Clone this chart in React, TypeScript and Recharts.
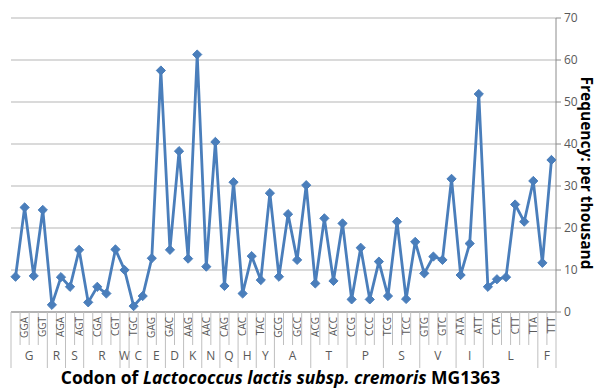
import { LineChart, Line, XAxis, YAxis, CartesianGrid } from 'recharts';

const codons = [
  'GGG', 'GGA', 'GGC', 'GGT', 'AGG', 'AGA', 'AGC', 'AGT', 'CGG', 'CGA', 'CGC', 'CGT',
  'TGG', 'TGC', 'TGT', 'GAG', 'GAA', 'GAC', 'GAT', 'AAG', 'AAA', 'AAC', 'AAT', 'CAG',
  'CAA', 'CAC', 'CAT', 'TAC', 'TAT', 'GCG', 'GCA', 'GCC', 'GCT', 'ACG', 'ACA', 'ACC',
  'ACT', 'CCG', 'CCA', 'CCC', 'CCT', 'TCG', 'TCA', 'TCC', 'TCT', 'GTG', 'GTA', 'GTC',
  'GTT', 'ATA', 'ATC', 'ATT', 'CTG', 'CTA', 'CTC', 'CTT', 'TTG', 'TTA', 'TTC', 'TTT',
];

const frequency = [
  8.4, 24.9, 8.6, 24.3, 1.7, 8.3, 6.0, 14.8, 2.3, 6.0, 4.4, 14.9,
  10.0, 1.4, 3.8, 12.8, 57.5, 14.8, 38.3, 12.7, 61.3, 10.8, 40.5, 6.2,
  30.9, 4.4, 13.3, 7.6, 28.3, 8.4, 23.3, 12.4, 30.2, 6.8, 22.3, 7.4,
  21.1, 3.0, 15.3, 3.0, 12.0, 3.8, 21.5, 3.1, 16.7, 9.2, 13.2, 12.4,
  31.7, 8.8, 16.3, 51.9, 6.0, 7.8, 8.3, 25.6, 21.5, 31.2, 11.7, 36.2,
];

const aminoAcids = ['G', 'R', 'S', 'R', 'W', 'C', 'E', 'D', 'K', 'N', 'Q', 'H', 'Y', 'A', 'T', 'P', 'S', 'V', 'I', 'L', 'F'];
const aminoAcidSizes = [4, 2, 2, 4, 1, 2, 2, 2, 2, 2, 2, 2, 2, 4, 4, 4, 4, 4, 3, 6, 2];

const yTicks = [0, 10, 20, 30, 40, 50, 60, 70];

const data = codons.map((codon, i) => ({ codon, value: frequency[i] }));

// first index of each amino acid group
const groupStarts: number[] = [];
aminoAcidSizes.reduce((acc, n) => {
  groupStarts.push(acc);
  return acc + n;
}, 0);

const WIDTH = 598;
const HEIGHT = 388;
const MARGIN = { top: 18, right: 0, left: 11, bottom: 0 };
const Y_AXIS_W = 42;
const X_AXIS_H = 76;
const STEP = (WIDTH - MARGIN.left - MARGIN.right - Y_AXIS_W) / codons.length;

const LINE_COLOR = '#4A7EBB';
const AXIS_COLOR = '#8c8c8c';
const SEP_COLOR = '#bfbfbf';
const TEXT_COLOR = '#595959';
const FONT = '"Open Sans", "Liberation Sans", sans-serif';

function CodonTick(props: any) {
  const { x, y, payload } = props;
  const i: number = payload.index;
  const left = x - STEP / 2;
  const g = groupStarts.indexOf(i);
  const isGroupEdge = g >= 0;
  const last = i === codons.length - 1;
  return (
    <g>
      <line x1={left} x2={left} y1={y} y2={y + (isGroupEdge ? 56 : 33)} stroke={SEP_COLOR} />
      {last && <line x1={x + STEP / 2} x2={x + STEP / 2} y1={y} y2={y + 56} stroke={SEP_COLOR} />}
      {i % 2 === 1 && (
        <text
          x={x}
          y={y + 5}
          transform={`rotate(-90, ${x}, ${y + 5})`}
          textAnchor="end"
          dy="0.35em"
          fontSize={10}
          fontFamily={FONT}
          fill={TEXT_COLOR}
        >
          {payload.value}
        </text>
      )}
      {isGroupEdge && (
        <text
          x={left + (aminoAcidSizes[g] * STEP) / 2}
          y={y + 48}
          textAnchor="middle"
          fontSize={12}
          fontFamily={FONT}
          fill={TEXT_COLOR}
        >
          {aminoAcids[g]}
        </text>
      )}
    </g>
  );
}

function Diamond(props: any) {
  const { cx, cy, index } = props;
  if (cx == null || cy == null) return null;
  const r = 4.6;
  return (
    <path
      key={`d-${index}`}
      d={`M${cx},${cy - r}L${cx + r},${cy}L${cx},${cy + r}L${cx - r},${cy}Z`}
      fill={LINE_COLOR}
      stroke={LINE_COLOR}
    />
  );
}

function XTitle(props: any) {
  const { viewBox } = props;
  const cx = viewBox.x + viewBox.width / 2 - 3;
  return (
    <text x={cx} y={384} textAnchor="middle" fontSize={17.5} fontWeight="bold" fontFamily={FONT} fill="#000">
      Codon of <tspan fontStyle="italic">Lactococcus lactis subsp. cremoris</tspan> MG1363
    </text>
  );
}

function YTitle() {
  const cx = 581;
  const cy = 173;
  return (
    <text
      x={cx}
      y={cy}
      transform={`rotate(90, ${cx}, ${cy})`}
      textAnchor="middle"
      fontSize={15.5}
      fontWeight="bold"
      fontFamily={FONT}
      fill="#000"
    >
      Frequency: per thousand
    </text>
  );
}

export default function App() {
  return (
    <div style={{ position: 'absolute', left: 0, top: 0, width: WIDTH, height: HEIGHT, background: '#fff' }}>
      <LineChart width={WIDTH} height={HEIGHT} data={data} margin={MARGIN}>
        <CartesianGrid vertical={false} stroke="#b5b5b5" />
        <XAxis
          dataKey="codon"
          scale="band"
          interval={0}
          height={X_AXIS_H}
          tickSize={0}
          tickMargin={0}
          tickLine={false}
          axisLine={{ stroke: AXIS_COLOR }}
          tick={(p: any) => <CodonTick {...p} />}
          label={<XTitle />}
        />
        <YAxis
          orientation="right"
          width={Y_AXIS_W}
          domain={[0, 70]}
          ticks={yTicks}
          interval={0}
          tickSize={5}
          tickMargin={3}
          axisLine={{ stroke: AXIS_COLOR }}
          tickLine={{ stroke: AXIS_COLOR }}
          tick={{ fontSize: 12, fill: TEXT_COLOR, fontFamily: FONT }}
          label={<YTitle />}
        />
        <Line
          type="linear"
          dataKey="value"
          stroke={LINE_COLOR}
          strokeWidth={2.8}
          dot={(p: any) => <Diamond key={`dot-${p.index}`} {...p} />}
          activeDot={false}
          isAnimationActive={false}
        />
      </LineChart>
    </div>
  );
}
